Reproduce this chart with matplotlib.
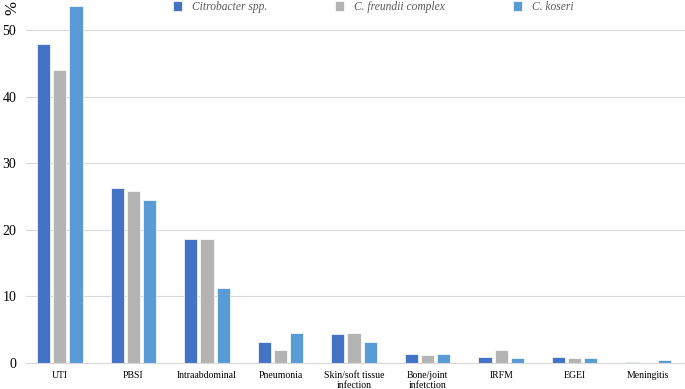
import numpy as np
import matplotlib.pyplot as plt

categories = ['UTI', 'PBSI', 'Intraabdominal', 'Pneumonia', 'Skin/soft tissue\ninfection',
              'Bone/joint\ninfetction', 'IRFM', 'EGEI', 'Meningitis']
citrobacter = [47.9, 26.2, 18.6, 3.1, 4.3, 1.35, 0.9, 0.9, 0.2]
freundii = [44.0, 25.8, 18.6, 1.95, 4.45, 1.15, 1.95, 0.7, 0.0]
koseri = [53.6, 24.5, 11.2, 4.45, 3.1, 1.3, 0.8, 0.8, 0.4]

plt.rcParams['font.family'] = 'Liberation Serif'

fig = plt.figure(figsize=(6.85, 3.89), dpi=100)
ax = fig.add_axes([0.038, 0.067, 0.962, 0.933])

x = np.arange(len(categories))
w = 0.18
ax.bar(x - 0.22, citrobacter, w, color='#4472C4', edgecolor='white', linewidth=0.5,
       label='Citrobacter spp.')
ax.bar(x, freundii, w, color='#B4B4B4', edgecolor='white', linewidth=0.5,
       label='C. freundii complex')
ax.bar(x + 0.22, koseri, w, color='#5B9BD5', edgecolor='white', linewidth=0.5,
       label='C. koseri')

ax.set_xlim(-0.46, len(categories) - 0.5)
ax.set_ylim(0, 54.5)
ax.set_yticks([0, 10, 20, 30, 40, 50])
ax.tick_params(axis='y', labelsize=10, length=0, pad=7)
ax.tick_params(axis='x', labelsize=7, length=0, pad=6)
ax.set_xticks(x)
ax.set_xticklabels(categories, linespacing=1.15)
ax.yaxis.grid(True, color='#d9d9d9', linewidth=0.8)
ax.set_axisbelow(True)
for s in ['top', 'right', 'left']:
    ax.spines[s].set_visible(False)
ax.spines['bottom'].set_color('#d9d9d9')

fig.text(0.007, 0.998, '%', rotation=90, fontsize=12, va='top', ha='left')

leg = fig.legend(loc='upper center', bbox_to_anchor=(0.545, 1.025), ncol=3, frameon=False,
                 handlelength=0.75, handleheight=0.95, handletextpad=0.9, columnspacing=5.9,
                 prop={'style': 'italic', 'size': 8.3})
for t in leg.get_texts():
    t.set_color('#595959')

fig.savefig('out.png', dpi=100)
